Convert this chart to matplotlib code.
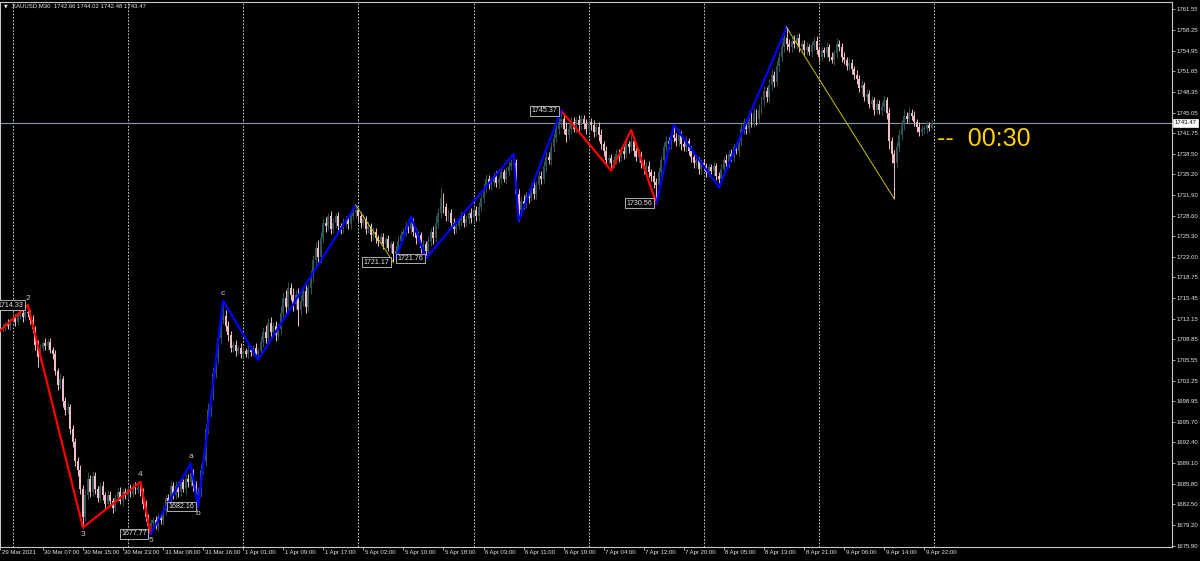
import matplotlib
matplotlib.use("Agg")
import matplotlib.pyplot as plt
import matplotlib.transforms as mtransforms
import numpy as np

# ---------------- data ----------------
symbol_title = "XAUUSD,M30  1742.66 1744.02 1742.48 1743.47"
first_open = 1710.2
closes = [
    1710.5, 1710.8, 1711.3, 1711.0, 1711.8, 1712.2, 1711.6, 1712.5, 1713.0, 1712.4, 1713.2, 1713.0,
    1712.0, 1710.5, 1708.0, 1706.0, 1707.5, 1708.2, 1707.8, 1708.5, 1707.2, 1706.5, 1703.8, 1701.5,
    1702.5, 1699.0, 1697.5, 1698.0, 1694.5, 1692.5, 1689.5, 1688.0, 1685.0, 1680.5,
    1684.0, 1686.5, 1684.5, 1687.0, 1685.0, 1683.5, 1685.5, 1684.0, 1682.5, 1684.0, 1683.0, 1682.0,
    1683.5, 1684.5, 1683.0, 1684.5, 1684.0, 1685.0, 1684.2, 1685.5, 1684.8, 1685.3, 1684.5,
    1682.5, 1680.5, 1679.0, 1679.5,
    1680.0, 1679.0, 1680.5, 1680.0, 1681.5, 1683.5, 1683.0, 1685.5, 1684.0, 1685.5, 1684.5, 1686.0,
    1685.0, 1686.5, 1686.0, 1687.5,
    1685.5, 1684.0, 1684.5,
    1688.0, 1689.5, 1694.5, 1697.5, 1700.0, 1703.5, 1706.0, 1709.0, 1712.0, 1712.5,
    1711.0, 1709.5, 1707.5, 1708.0, 1707.0, 1707.5, 1706.5, 1707.0, 1706.5, 1707.2, 1706.8, 1707.5,
    1706.5, 1707.0,
    1708.5, 1710.0, 1709.0, 1711.5, 1710.0, 1711.0, 1709.5, 1710.5, 1713.0, 1715.5, 1714.0, 1717.0,
    1716.0, 1714.5, 1716.0, 1713.5, 1715.0, 1716.5, 1714.0, 1717.0, 1719.0, 1721.5, 1723.5, 1722.0,
    1725.0, 1727.5, 1727.0, 1728.5, 1726.5, 1727.5, 1728.5, 1727.0, 1726.5, 1727.5, 1728.0, 1727.2,
    1728.5, 1729.0, 1729.5,
    1728.5, 1727.5, 1728.0, 1726.5, 1727.0, 1725.5, 1726.0, 1725.0, 1724.5, 1725.2, 1724.0, 1724.8,
    1723.5, 1724.0, 1722.5, 1723.0,
    1724.5, 1725.5, 1726.0, 1727.0, 1726.5, 1727.5,
    1726.0, 1725.0, 1725.5, 1723.5, 1724.0, 1723.0,
    1724.5, 1726.0, 1725.0, 1727.5, 1729.0, 1731.5, 1730.0, 1728.5, 1729.0, 1727.5, 1726.5, 1727.0,
    1727.8, 1728.5, 1727.5, 1728.0, 1729.0, 1728.2, 1729.5, 1728.5, 1730.0, 1731.5, 1733.0, 1734.5,
    1733.5, 1734.0, 1735.0, 1733.8, 1734.5, 1735.5, 1734.5, 1735.8, 1736.5, 1737.0, 1737.0,
    1732.0, 1729.5,
    1731.0, 1730.5, 1732.0, 1731.5, 1733.0, 1732.0, 1733.5, 1735.0, 1734.5, 1736.5, 1738.0, 1737.5,
    1739.5, 1741.0, 1742.5, 1743.5, 1744.0,
    1742.5, 1741.5, 1742.5, 1743.5, 1742.5, 1743.8, 1743.0, 1744.0, 1743.2, 1742.5, 1743.5, 1743.0,
    1742.0, 1742.8, 1741.5, 1740.0, 1739.0, 1737.5, 1737.8, 1737.0,
    1737.5, 1738.5, 1738.0, 1739.0, 1738.5, 1740.0, 1739.5, 1740.5,
    1739.0, 1738.0, 1738.5, 1737.0, 1736.0, 1736.5, 1735.5, 1735.0, 1734.0, 1733.5,
    1735.5, 1737.5, 1739.5, 1740.5, 1740.0, 1741.5, 1741.0,
    1740.5, 1741.5, 1740.0, 1739.5, 1740.5, 1739.0, 1738.0, 1737.0, 1737.5, 1736.0, 1737.0, 1736.5,
    1735.5, 1736.3, 1735.8, 1736.5, 1735.0, 1734.5,
    1736.0, 1737.5, 1737.0, 1738.5, 1738.0, 1739.5, 1739.0, 1740.5, 1742.5, 1743.5, 1742.5, 1744.5,
    1743.5, 1745.0, 1744.0, 1745.5, 1747.0, 1748.5, 1747.5, 1749.5, 1751.0, 1750.0, 1752.5, 1754.0,
    1755.5, 1757.0, 1756.0,
    1755.5, 1756.5, 1756.0, 1757.0, 1755.5, 1756.0, 1755.0, 1755.5, 1754.8, 1755.8, 1756.5, 1755.0,
    1754.0, 1755.0, 1754.5, 1755.5, 1754.0, 1753.5, 1754.5, 1756.0, 1755.5, 1754.0, 1753.5, 1752.5,
    1753.0, 1752.0, 1751.0, 1750.5, 1749.0, 1749.5, 1747.5, 1748.0, 1746.5, 1747.0, 1745.5, 1746.5,
    1745.5, 1746.0, 1747.0, 1745.0, 1740.5, 1738.5, 1737.0, 1739.5, 1741.5, 1743.0, 1744.5, 1744.0,
    1745.0, 1744.5, 1743.5, 1742.8, 1742.0, 1742.5, 1742.5, 1743.0, 1742.66, 1743.47,
]
upper_wicks = [
    0.4, 0.6, 0.5, 0.8, 0.4, 0.5, 0.7, 0.4, 0.6, 0.5, 0.5, 1.33, 0.6, 0.8, 0.5, 0.7, 0.6, 0.5, 0.8, 0.4,
    0.6, 0.5, 0.7, 0.4, 0.9, 0.5, 0.6, 0.8, 0.5, 0.7, 0.6, 0.5, 0.8, 0.6, 0.9, 1.2, 0.7, 0.8, 0.6, 0.5,
    0.6, 0.7, 0.5, 0.8, 0.6, 0.5, 0.7, 0.6, 0.8, 0.5, 0.6, 0.5, 0.7, 0.4, 0.6, 0.5, 0.8, 0.6, 0.7, 0.5,
    0.6, 0.5, 0.7, 0.6, 0.5, 0.8, 0.6, 0.7, 0.9, 0.6, 0.8, 0.5, 0.7, 0.6, 0.8, 0.9, 1.5, 0.6, 0.7, 0.8,
    0.9, 1.0, 0.8, 1.2, 0.9, 1.0, 1.1, 0.8, 1.2, 2.55, 1.0, 0.8, 0.7, 0.6, 0.8, 0.5, 0.7, 0.6, 0.5, 0.7,
    0.6, 0.5, 0.8, 0.6, 0.9, 0.8, 1.2, 0.7, 0.9, 0.6, 0.8, 1.0, 1.2, 0.9, 1.3, 1.0, 0.8, 1.1, 0.7, 1.0,
    0.9, 0.8, 1.1, 0.9, 1.0, 0.8, 0.9, 1.2, 1.0, 0.8, 0.9, 0.6, 0.8, 0.7, 0.6, 0.7, 0.5, 0.8, 0.6, 0.7,
    0.6, 0.5, 0.8, 0.5, 0.7, 0.8, 0.6, 0.7, 0.5, 0.8, 0.6, 0.5, 0.7, 0.6, 0.5, 0.7, 0.6, 0.5, 0.7, 0.8,
    0.6, 0.7, 0.8, 0.6, 0.96, 0.7, 0.6, 0.8, 0.5, 0.7, 0.6, 0.8, 0.7, 0.9, 1.0, 0.9, 1.7, 0.8, 0.6, 0.7,
    0.6, 0.8, 0.7, 0.5, 0.8, 0.6, 0.7, 0.5, 0.8, 0.6, 0.7, 0.8, 0.9, 0.7, 0.8, 0.6, 0.7, 0.5, 0.8, 0.6,
    0.7, 0.5, 0.6, 0.8, 0.7, 1.46, 0.6, 0.8, 0.7, 0.9, 0.6, 0.8, 0.7, 0.9, 0.6, 0.8, 0.7, 0.9, 0.8, 0.7,
    0.9, 0.8, 0.7, 0.9, 1.37, 0.8, 1.0, 0.7, 0.9, 0.8, 0.6, 0.9, 0.7, 0.6, 0.8, 0.6, 0.7, 0.8, 0.5, 0.7,
    0.9, 0.6, 0.8, 0.5, 0.7, 0.6, 0.8, 0.7, 0.6, 0.8, 0.7, 0.6, 1.8, 0.7, 0.6, 0.8, 0.5, 0.7, 0.6, 0.8,
    0.5, 0.7, 0.6, 0.8, 0.7, 0.9, 0.8, 0.6, 0.7, 1.6, 0.8, 0.9, 0.6, 0.7, 0.8, 0.5, 0.7, 0.6, 0.8, 0.5,
    0.7, 0.6, 0.5, 0.7, 0.6, 0.8, 0.5, 0.6, 0.8, 0.7, 0.9, 0.6, 0.8, 0.7, 0.6, 0.9, 0.8, 0.7, 0.6, 0.9,
    0.7, 0.8, 0.6, 0.9, 0.7, 0.8, 0.6, 0.9, 1.0, 0.7, 0.9, 0.8, 1.0, 0.9, 1.7, 0.8, 0.7, 0.9, 0.6, 0.8,
    0.7, 0.6, 0.8, 0.5, 0.7, 0.6, 0.8, 0.5, 0.7, 0.6, 0.8, 0.5, 0.7, 0.6, 1.0, 0.7, 0.6, 0.8, 0.5, 0.7,
    0.6, 0.5, 0.8, 0.6, 0.7, 0.5, 0.8, 0.6, 0.7, 0.5, 0.8, 0.6, 0.7, 0.9, 0.6, 0.8, 0.7, 0.6, 0.9, 1.0,
    0.8, 1.1, 0.7, 0.9, 0.6, 0.8, 0.5, 0.7, 0.6, 0.5, 0.7, 0.6, 0.55,
]
lower_wicks = [
    0.5, 0.4, 0.6, 0.5, 0.7, 0.4, 0.6, 0.5, 0.4, 0.7, 0.5, 0.6, 0.7, 0.6, 0.9, 1.5, 0.6, 0.5, 0.7, 0.6,
    0.5, 0.8, 0.6, 0.7, 0.5, 0.9, 0.8, 0.6, 0.7, 0.9, 0.8, 1.0, 0.9, 1.7, 0.6, 0.7, 0.8, 0.6, 0.9, 0.7,
    0.6, 0.8, 0.9, 0.6, 0.7, 0.8, 0.6, 0.7, 0.5, 0.8, 0.6, 0.7, 0.5, 0.6, 0.7, 0.5, 0.6, 0.8, 0.7, 0.6,
    1.23, 0.6, 0.5, 0.7, 0.6, 0.8, 0.7, 0.6, 0.8, 0.7, 0.6, 0.8, 0.7, 0.6, 0.8, 0.7, 0.6, 0.8, 0.7, 1.84,
    0.8, 0.7, 0.9, 0.8, 1.0, 0.9, 0.8, 1.0, 0.9, 0.7, 0.8, 0.9, 0.7, 0.6, 0.8, 0.5, 0.7, 0.6, 0.5, 0.7,
    0.6, 0.5, 0.7, 0.9, 0.6, 0.8, 0.7, 0.9, 0.8, 0.6, 0.9, 0.7, 0.8, 0.9, 1.0, 0.8, 0.9, 1.2, 0.8, 2.5,
    0.9, 0.8, 1.0, 0.7, 0.9, 1.0, 0.8, 1.1, 0.9, 0.8, 1.0, 0.7, 0.8, 0.6, 0.9, 0.7, 0.8, 0.6, 0.7, 0.8,
    0.7, 0.6, 0.8, 0.7, 0.9, 0.6, 0.8, 0.7, 0.9, 0.6, 0.8, 0.7, 0.6, 0.8, 0.7, 0.6, 0.8, 1.33, 0.74, 0.7,
    0.6, 0.8, 0.7, 0.6, 0.8, 0.7, 0.9, 0.6, 0.8, 0.7, 1.2, 0.8, 0.7, 0.9, 0.6, 0.8, 0.7, 0.9, 0.8, 0.7,
    0.8, 0.9, 0.7, 0.6, 0.8, 0.7, 0.6, 0.8, 0.7, 0.6, 0.8, 0.7, 0.6, 0.8, 0.7, 0.6, 0.8, 0.7, 0.6, 0.8,
    0.7, 0.6, 0.8, 0.7, 0.6, 0.8, 1.0, 1.7, 0.9, 0.8, 0.7, 0.9, 0.6, 0.8, 0.7, 0.6, 0.8, 0.7, 0.9, 0.6,
    0.8, 0.7, 0.6, 0.8, 0.7, 0.9, 1.2, 0.7, 0.8, 0.6, 0.7, 0.8, 0.6, 0.7, 0.8, 0.6, 0.7, 0.8, 0.6, 0.9,
    0.7, 0.8, 0.9, 0.7, 1.2, 0.8, 0.7, 0.9, 0.6, 0.8, 0.7, 0.9, 0.6, 0.8, 0.7, 0.9, 0.8, 0.7, 0.9, 0.8,
    0.9, 1.0, 2.94, 0.8, 0.7, 0.9, 0.6, 0.8, 0.7, 0.6, 0.8, 0.7, 0.9, 0.6, 0.8, 0.7, 0.9, 0.8, 0.7, 0.8,
    0.7, 0.6, 0.8, 0.7, 0.6, 0.8, 0.7, 1.35, 0.8, 0.7, 0.6, 0.8, 0.7, 0.9, 0.6, 0.8, 0.7, 0.9, 0.8, 0.7,
    0.8, 0.7, 0.9, 0.8, 0.7, 0.9, 0.8, 0.7, 0.9, 0.8, 0.7, 0.9, 0.8, 0.7, 0.9, 0.8, 0.7, 0.6, 0.8, 0.7,
    0.6, 0.8, 0.7, 0.6, 0.8, 0.7, 0.6, 0.8, 0.7, 0.6, 0.8, 0.7, 0.6, 0.8, 0.7, 0.6, 0.8, 0.7, 0.6, 0.8,
    0.7, 0.6, 0.8, 0.7, 0.9, 0.6, 0.8, 0.7, 0.6, 0.8, 0.7, 0.6, 0.8, 0.7, 0.9, 1.2, 1.5, 5.7, 0.8, 0.7,
    0.8, 0.7, 0.6, 0.8, 0.7, 0.6, 0.8, 0.7, 0.6, 0.8, 0.7, 0.6, 0.18,
]

# day separators (bar index of each day's first bar)
day_starts = [5, 51, 97, 143, 189, 235, 281, 327, 373]

# time axis labels
time_label_bars = [0, 17, 33, 49, 65, 81, 97, 113, 129, 145, 161, 177, 193, 209, 225,
                   241, 257, 273, 289, 305, 321, 337, 353, 369]
time_labels = ["29 Mar 2021", "30 Mar 07:00", "30 Mar 15:00", "30 Mar 23:00", "31 Mar 08:00",
               "31 Mar 16:00", "1 Apr 01:00", "1 Apr 09:00", "1 Apr 17:00", "5 Apr 02:00",
               "5 Apr 10:00", "5 Apr 18:00", "6 Apr 03:00", "6 Apr 11:00", "6 Apr 19:00",
               "7 Apr 04:00", "7 Apr 12:00", "7 Apr 20:00", "8 Apr 05:00", "8 Apr 13:00",
               "8 Apr 21:00", "9 Apr 06:00", "9 Apr 14:00", "9 Apr 22:00"]

# price axis labels
price_ticks = [1761.55, 1758.25, 1754.95, 1751.65, 1748.35, 1745.05, 1741.75, 1738.50, 1735.20,
               1731.90, 1728.60, 1725.30, 1722.00, 1718.75, 1715.45, 1712.15, 1708.85, 1705.55,
               1702.25, 1698.95, 1695.70, 1692.40, 1689.10, 1685.80, 1682.50, 1679.20, 1675.90]
current_price = 1743.47
timer_text = "--  00:30"

# zigzag legs: (bar indices, prices)
zz_red1_bars = [-1, 11, 33, 56, 60]
zz_red1_prices = [1709.9, 1714.33, 1678.8, 1686.1, 1677.77]
zz_blue1_bars = [60, 76, 79, 89, 103, 142]
zz_blue1_prices = [1677.77, 1689.0, 1682.16, 1715.05, 1705.6, 1730.3]
zz_yel1_bars = [142, 157]
zz_yel1_prices = [1730.3, 1721.17]
zz_blue2_bars = [158, 164, 170, 205, 207, 224]
zz_blue2_prices = [1721.76, 1728.46, 1721.8, 1738.46, 1727.8, 1745.37]
zz_red2_bars = [224, 244, 252, 262]
zz_red2_prices = [1745.37, 1735.8, 1742.3, 1730.56]
zz_blue3_bars = [262, 269, 287, 314]
zz_blue3_prices = [1730.56, 1743.1, 1733.15, 1758.7]
zz_yel2_bars = [314, 357]
zz_yel2_prices = [1758.7, 1731.3]

wave_labels = ["2", "3", "4", "5", "a", "b", "c"]
wave_label_bars = [11, 33, 56, 60, 76, 79, 89]
wave_label_prices = [1714.33, 1678.8, 1686.1, 1677.77, 1689.0, 1682.16, 1715.05]
wave_label_side = [1, -1, 1, -1, 1, -1, 1]

box_bars = [11, 60, 79, 157, 158, 224, 262]
box_prices = [1714.33, 1677.77, 1682.16, 1721.17, 1721.76, 1745.37, 1730.56]
box_align = ["right", "right", "right", "right", "left", "right", "right"]

# ---------------- drawing ----------------
W, H = 1200, 561
fig = plt.figure(figsize=(W / 100, H / 100), dpi=100, facecolor="black")
ax = fig.add_axes([0.0, 13.7 / H, 1172 / W, 545.8 / H], facecolor="black")
FONT = "Liberation Sans"

n = len(closes)
idx = np.arange(n)
c = np.array(closes)
o = np.array([first_open] + closes[:-1])
hi = np.maximum(o, c) + np.array(upper_wicks)
lo = np.minimum(o, c) - np.array(lower_wicks)
bull = c >= o
bull_col = "#2e5656"
bear_col = "#f2bcc6"
cols = np.where(bull, bull_col, bear_col)

# day separators
for d in day_starts:
    ax.axvline(d, color="#c8c8c8", lw=0.7, ls=(0, (1.8, 1.6)), zorder=0.5)

# current price line
ax.axhline(current_price, color="#8a98a8", lw=0.8, zorder=0.6)

# candles
ax.vlines(idx, lo, hi, colors=cols, lw=0.7, zorder=2)
body_h = np.maximum(np.abs(c - o), 0.1)
ax.bar(idx, body_h, bottom=np.minimum(o, c), width=0.78, color=cols, linewidth=0, zorder=2.1)

# zigzag
ax.plot(zz_red1_bars, zz_red1_prices, color="#ff0000", lw=1.6, zorder=3)
ax.plot(zz_red2_bars, zz_red2_prices, color="#ff0000", lw=1.6, zorder=3)
ax.plot(zz_blue1_bars, zz_blue1_prices, color="#0000ff", lw=1.6, zorder=3)
ax.plot(zz_blue2_bars, zz_blue2_prices, color="#0000ff", lw=1.6, zorder=3)
ax.plot(zz_blue3_bars, zz_blue3_prices, color="#0000ff", lw=1.6, zorder=3)
ax.plot(zz_yel1_bars, zz_yel1_prices, color="#c8c400", lw=0.7, zorder=3)
ax.plot(zz_yel2_bars, zz_yel2_prices, color="#c8c400", lw=0.7, zorder=3)

# wave labels
for t, b, p, s in zip(wave_labels, wave_label_bars, wave_label_prices, wave_label_side):
    ax.annotate(t, (b, p), xytext=(0, 7 * s), textcoords="offset pixels", ha="center",
                va="center", color="#d8c4c4", fontsize=6, family=FONT, zorder=5)

# price boxes
for b, p, a in zip(box_bars, box_prices, box_align):
    dx = -4 if a == "right" else 2
    ax.annotate(f"{p:.2f}", (b, p), xytext=(dx, 0), textcoords="offset pixels", ha=a,
                va="center", color="#e6e6e6", fontsize=5.1, family=FONT, zorder=6,
                bbox=dict(boxstyle="square,pad=0.2", fc="black", ec="#c8c8c8", lw=0.6),
                annotation_clip=False)

# limits
ax.set_xlim(-0.11, 467.94)
ax.set_ylim(1675.645, 1762.80)

# spines
for sp in ax.spines.values():
    sp.set_color("#c8c8c8")
    sp.set_linewidth(0.8)

# y axis on the right
ax.yaxis.tick_right()
ax.set_yticks(price_ticks)
ax.set_yticklabels([f"{v:.2f}" for v in price_ticks])
ax.tick_params(axis="y", direction="out", length=2.2, width=0.6, colors="#c8c8c8",
               labelsize=4.3, labelcolor="#e6e6e6", pad=1.2)
for lab in ax.get_yticklabels():
    lab.set_family(FONT)

# x axis ticks + left-aligned labels
ax.set_xticks(time_label_bars)
ax.set_xticklabels([])
ax.tick_params(axis="x", direction="out", length=2.2, width=0.6, colors="#c8c8c8")
trans = mtransforms.blended_transform_factory(ax.transData, ax.transAxes)
trans = trans + mtransforms.ScaledTranslation(1.5 / 100, -3.0 / 100, fig.dpi_scale_trans)
for b, t in zip(time_label_bars, time_labels):
    ax.text(b, 0, t, transform=trans, ha="left", va="top", color="#e6e6e6",
            fontsize=4.3, family=FONT, clip_on=False)

# current price box on the axis
tr2 = mtransforms.blended_transform_factory(ax.transAxes, ax.transData)
tr2 = tr2 + mtransforms.ScaledTranslation(2.5 / 100, 0, fig.dpi_scale_trans)
ax.text(1.0, current_price, f"{current_price:.2f}", transform=tr2, ha="left", va="center",
        color="black", fontsize=4.3, family=FONT, clip_on=False, zorder=7,
        bbox=dict(boxstyle="square,pad=0.25", fc="white", ec="white", lw=0.5))

# countdown timer text
fig.text(937 / W, 1 - 139 / H, timer_text, color="#ffd000", fontsize=18, family=FONT,
         ha="left", va="center")

# title
fig.text(3.5 / W, 1 - 6 / H, "\u25BC", color="#e6e6e6", fontsize=3.5, family="DejaVu Sans",
         ha="left", va="center")
fig.text(11.5 / W, 1 - 6 / H, symbol_title, color="#e6e6e6", fontsize=4.3, family=FONT,
         ha="left", va="center")

fig.savefig("out.png", dpi=100, facecolor="black")
